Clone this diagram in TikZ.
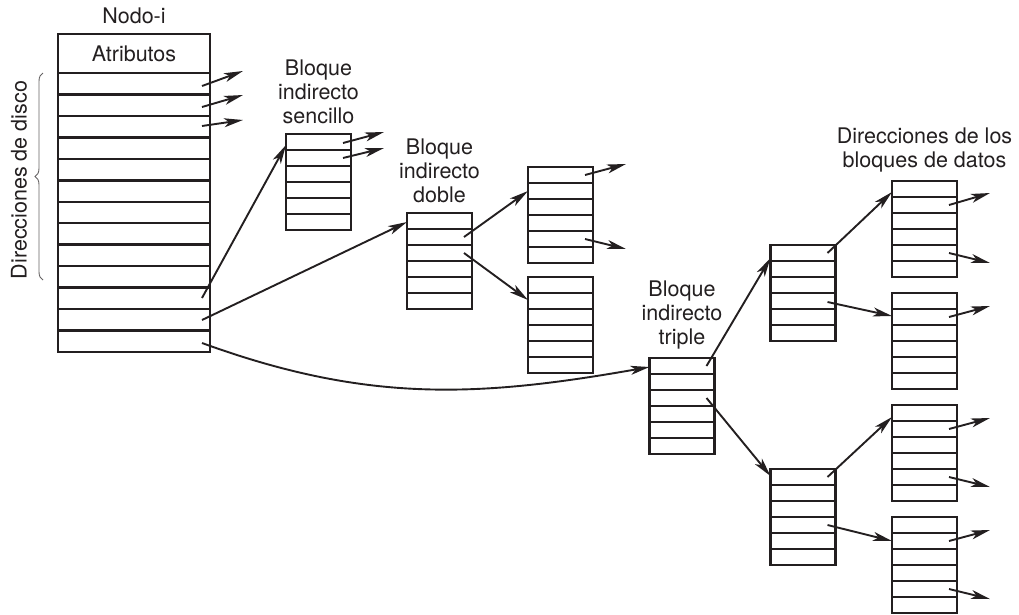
\documentclass[tikz,border=0pt]{standalone}
\usepackage{fontspec}
\setmainfont{TeX Gyre Heros}
\usetikzlibrary{
  arrows.meta,
  positioning,
  calc,
  decorations.pathreplacing
}
\definecolor{ink}{HTML}{231F20}

% short arrow leaving a row of a block: block, offset below its top, rise
\newcommand\stub[3]{%
  \draw[arrow] ([shift={(-8pt,-#2pt)}]#1.north east) -- ++(41pt,#3pt);}

\begin{document}
\begin{tikzpicture}[
      x=1pt, y=1pt,
      rows/.style 2 args={path picture={
          \foreach \k [evaluate=\k as \f using (\k-1)/#1] in {2,...,#1}
            \draw[ink, line width=#2]
              ($(path picture bounding box.north west)!\f!(path picture bounding box.south west)$)
              -- ++(200pt,0);}},
      cell/.style={
        draw=ink, line width=2.3pt, minimum width=152pt,
        inner sep=0pt, outer sep=0pt
      },
      blk/.style={
        draw=ink, line width=2.2pt,
        minimum width=65pt, minimum height=96pt,
        inner sep=0pt, outer sep=0pt, rows={6}{1.4pt}
      },
      arrow/.style={-{Stealth[length=19pt, width=9pt, inset=5pt]}, line width=1.9pt, ink},
      lbl/.style={font=\fontsize{21.5}{24}\selectfont, text=ink, align=center, inner sep=0pt},
      brace/.style={decorate, decoration={brace, amplitude=8pt}, line width=0.9pt, ink!70}
    ]
      \useasboundingbox (0,0) rectangle (1019,-614);

      % i-node
      \node[cell, lbl, minimum height=39pt] (attr) at (134,-53.5) {Atributos};
      \node[cell, minimum height=279pt, below=0pt of attr, rows={13}{2.5pt}] (inode) {};
      \node[lbl, above=10pt of attr] (title) {Nodo-i};

      \coordinate (bt) at ([xshift=-15pt]inode.north west);
      \coordinate (bb) at ([shift={(-15pt,-207pt)}]inode.north west);
      \draw[brace] (bb) -- (bt);
      \node[lbl, rotate=90] (dlbl) at (19,-180) {Direcciones de disco};

      % indirect blocks
      \node[blk] (s) at (318.5,-182) {};
      \node[blk] (d) at (439.5,-261) {};
      \node[blk] (d1) at (560.5,-215) {};
      \node[blk, below=14pt of d1] (d2) {};
      \node[blk] (t) at (682,-406) {};
      \node[blk] (t1) at (803,-293) {};
      \node[blk] (t2) at (803,-517) {};
      \node[blk] (b1) at (924.5,-229) {};
      \node[blk, below=16pt of b1] (b2) {};
      \node[blk, below=16pt of b2] (b3) {};
      \node[blk, below=16pt of b3] (b4) {};

      \node[lbl, above=10pt of s] (slbl) {Bloque\\indirecto\\sencillo};
      \node[lbl, above=10pt of d] (dlbl2) {Bloque\\indirecto\\doble};
      \node[lbl, above=9pt of t] (tlbl) {Bloque\\indirecto\\triple};
      \node[lbl, above=9pt of b1] (blbl) {Direcciones de los\\bloques de datos};

      % direct addresses
      \stub{inode}{13}{15}
      \stub{inode}{34}{12}
      \stub{inode}{53}{6}

      % indirect pointers
      \draw[arrow] ([shift={(-8pt,-225pt)}]inode.north east) -- ([yshift=-11pt]s.north west);
      \draw[arrow] ([shift={(-8pt,-247pt)}]inode.north east) -- ([yshift=-9pt]d.north west);
      \draw[arrow] ([shift={(-8pt,-270pt)}]inode.north east)
        to[out=-20, in=190] ([yshift=-9pt]t.north west);

      \stub{s}{9}{11}
      \stub{s}{24}{10}

      \draw[arrow] ([shift={(-8pt,-24pt)}]d.north east) -- ([yshift=-24pt]d1.north west);
      \draw[arrow] ([shift={(-8pt,-40pt)}]d.north east) -- ([yshift=-23pt]d2.north west);
      \stub{d1}{8}{11}
      \stub{d1}{72}{-10}

      \draw[arrow] ([shift={(-8pt,-8pt)}]t.north east) -- ([yshift=-13pt]t1.north west);
      \draw[arrow] ([shift={(-8pt,-40pt)}]t.north east) -- ([yshift=-7pt]t2.north west);
      \draw[arrow] ([shift={(-8pt,-8pt)}]t1.north east) -- ([yshift=-11pt]b1.north west);
      \draw[arrow] ([shift={(-8pt,-57pt)}]t1.north east) -- ([yshift=-23pt]b2.north west);
      \draw[arrow] ([shift={(-8pt,-8pt)}]t2.north east) -- ([yshift=-12pt]b3.north west);
      \draw[arrow] ([shift={(-8pt,-56pt)}]t2.north east) -- ([yshift=-24pt]b4.north west);

      \stub{b1}{24}{12}
      \stub{b1}{72}{-10}
      \stub{b2}{24}{11}
      \stub{b3}{24}{11}
      \stub{b3}{72}{-10}
      \stub{b4}{24}{11}
      \stub{b4}{72}{-10}
    \end{tikzpicture}
\end{document}
